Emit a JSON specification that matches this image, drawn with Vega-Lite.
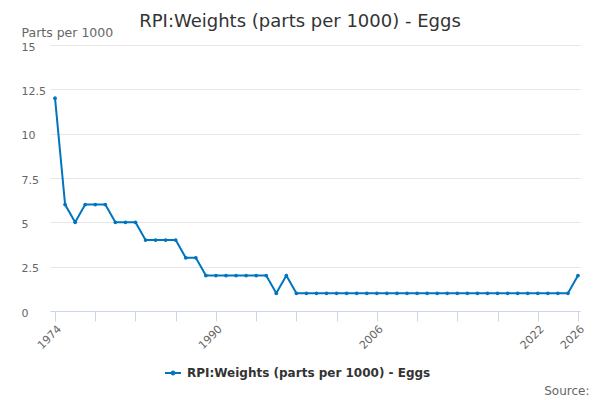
{
  "$schema": "https://vega.github.io/schema/vega-lite/v6.json",
  "width": 530,
  "height": 266,
  "autosize": "none",
  "padding": {"left": 50, "top": 45, "right": 20, "bottom": 89},
  "background": "#ffffff",
  "config": {
    "font": "DejaVu Sans",
    "view": {"stroke": null},
    "axis": {"labelColor": "#666666", "labelFontSize": 11, "titleFont": "DejaVu Sans"}
  },
  "title": {
    "text": "RPI:Weights (parts per 1000) - Eggs",
    "fontSize": 18,
    "fontWeight": "normal",
    "color": "#333333",
    "anchor": "middle",
    "frame": "group",
    "baseline": "alphabetic",
    "dx": -15,
    "dy": 21,
    "offset": 2
  },
  "data": {
    "values": [
      {"year": 1974, "value": 12, "series": "RPI:Weights (parts per 1000) - Eggs"},
      {"year": 1975, "value": 6, "series": "RPI:Weights (parts per 1000) - Eggs"},
      {"year": 1976, "value": 5, "series": "RPI:Weights (parts per 1000) - Eggs"},
      {"year": 1977, "value": 6, "series": "RPI:Weights (parts per 1000) - Eggs"},
      {"year": 1978, "value": 6, "series": "RPI:Weights (parts per 1000) - Eggs"},
      {"year": 1979, "value": 6, "series": "RPI:Weights (parts per 1000) - Eggs"},
      {"year": 1980, "value": 5, "series": "RPI:Weights (parts per 1000) - Eggs"},
      {"year": 1981, "value": 5, "series": "RPI:Weights (parts per 1000) - Eggs"},
      {"year": 1982, "value": 5, "series": "RPI:Weights (parts per 1000) - Eggs"},
      {"year": 1983, "value": 4, "series": "RPI:Weights (parts per 1000) - Eggs"},
      {"year": 1984, "value": 4, "series": "RPI:Weights (parts per 1000) - Eggs"},
      {"year": 1985, "value": 4, "series": "RPI:Weights (parts per 1000) - Eggs"},
      {"year": 1986, "value": 4, "series": "RPI:Weights (parts per 1000) - Eggs"},
      {"year": 1987, "value": 3, "series": "RPI:Weights (parts per 1000) - Eggs"},
      {"year": 1988, "value": 3, "series": "RPI:Weights (parts per 1000) - Eggs"},
      {"year": 1989, "value": 2, "series": "RPI:Weights (parts per 1000) - Eggs"},
      {"year": 1990, "value": 2, "series": "RPI:Weights (parts per 1000) - Eggs"},
      {"year": 1991, "value": 2, "series": "RPI:Weights (parts per 1000) - Eggs"},
      {"year": 1992, "value": 2, "series": "RPI:Weights (parts per 1000) - Eggs"},
      {"year": 1993, "value": 2, "series": "RPI:Weights (parts per 1000) - Eggs"},
      {"year": 1994, "value": 2, "series": "RPI:Weights (parts per 1000) - Eggs"},
      {"year": 1995, "value": 2, "series": "RPI:Weights (parts per 1000) - Eggs"},
      {"year": 1996, "value": 1, "series": "RPI:Weights (parts per 1000) - Eggs"},
      {"year": 1997, "value": 2, "series": "RPI:Weights (parts per 1000) - Eggs"},
      {"year": 1998, "value": 1, "series": "RPI:Weights (parts per 1000) - Eggs"},
      {"year": 1999, "value": 1, "series": "RPI:Weights (parts per 1000) - Eggs"},
      {"year": 2000, "value": 1, "series": "RPI:Weights (parts per 1000) - Eggs"},
      {"year": 2001, "value": 1, "series": "RPI:Weights (parts per 1000) - Eggs"},
      {"year": 2002, "value": 1, "series": "RPI:Weights (parts per 1000) - Eggs"},
      {"year": 2003, "value": 1, "series": "RPI:Weights (parts per 1000) - Eggs"},
      {"year": 2004, "value": 1, "series": "RPI:Weights (parts per 1000) - Eggs"},
      {"year": 2005, "value": 1, "series": "RPI:Weights (parts per 1000) - Eggs"},
      {"year": 2006, "value": 1, "series": "RPI:Weights (parts per 1000) - Eggs"},
      {"year": 2007, "value": 1, "series": "RPI:Weights (parts per 1000) - Eggs"},
      {"year": 2008, "value": 1, "series": "RPI:Weights (parts per 1000) - Eggs"},
      {"year": 2009, "value": 1, "series": "RPI:Weights (parts per 1000) - Eggs"},
      {"year": 2010, "value": 1, "series": "RPI:Weights (parts per 1000) - Eggs"},
      {"year": 2011, "value": 1, "series": "RPI:Weights (parts per 1000) - Eggs"},
      {"year": 2012, "value": 1, "series": "RPI:Weights (parts per 1000) - Eggs"},
      {"year": 2013, "value": 1, "series": "RPI:Weights (parts per 1000) - Eggs"},
      {"year": 2014, "value": 1, "series": "RPI:Weights (parts per 1000) - Eggs"},
      {"year": 2015, "value": 1, "series": "RPI:Weights (parts per 1000) - Eggs"},
      {"year": 2016, "value": 1, "series": "RPI:Weights (parts per 1000) - Eggs"},
      {"year": 2017, "value": 1, "series": "RPI:Weights (parts per 1000) - Eggs"},
      {"year": 2018, "value": 1, "series": "RPI:Weights (parts per 1000) - Eggs"},
      {"year": 2019, "value": 1, "series": "RPI:Weights (parts per 1000) - Eggs"},
      {"year": 2020, "value": 1, "series": "RPI:Weights (parts per 1000) - Eggs"},
      {"year": 2021, "value": 1, "series": "RPI:Weights (parts per 1000) - Eggs"},
      {"year": 2022, "value": 1, "series": "RPI:Weights (parts per 1000) - Eggs"},
      {"year": 2023, "value": 1, "series": "RPI:Weights (parts per 1000) - Eggs"},
      {"year": 2024, "value": 1, "series": "RPI:Weights (parts per 1000) - Eggs"},
      {"year": 2025, "value": 1, "series": "RPI:Weights (parts per 1000) - Eggs"},
      {"year": 2026, "value": 2, "series": "RPI:Weights (parts per 1000) - Eggs"}
    ]
  },
  "mark": {
    "type": "line",
    "strokeWidth": 2,
    "point": {"filled": true, "size": 14}
  },
  "encoding": {
    "x": {
      "field": "year",
      "type": "quantitative",
      "scale": {"domain": [1973.5, 2026.2], "nice": false, "zero": false},
      "axis": {
        "values": [1974, 1978, 1982, 1986, 1990, 1994, 1998, 2002, 2006, 2010, 2014, 2018, 2022, 2026],
        "labelExpr": "(datum.value == 1974 || datum.value == 1990 || datum.value == 2006 || datum.value == 2022 || datum.value == 2026) ? datum.label : ''",
        "format": "d",
        "labelAngle": -45,
        "labelAlign": "right",
        "labelBaseline": "top",
        "labelPadding": 2,
        "labelFlush": false,
        "labelOverlap": false,
        "grid": false,
        "domainColor": "#ccd6eb",
        "tickColor": "#ccd6eb",
        "tickSize": 10,
        "title": "Source:",
        "titleFontSize": 12,
        "titleFontWeight": "normal",
        "titleColor": "#666666",
        "titleAnchor": "end",
        "titleAlign": "right",
        "titleBaseline": "alphabetic",
        "titleX": 539,
        "titleY": 83
      }
    },
    "y": {
      "field": "value",
      "type": "quantitative",
      "scale": {"domain": [0, 15], "nice": false},
      "axis": {
        "values": [0, 2.5, 5, 7.5, 10, 12.5, 15],
        "format": ".3~g",
        "domain": false,
        "ticks": false,
        "tickSize": 0,
        "labelAlign": "left",
        "labelPadding": 29,
        "labelOffset": 2,
        "gridColor": "#e6e6e6",
        "title": "Parts per 1000",
        "titleAngle": 0,
        "titleAlign": "left",
        "titleBaseline": "middle",
        "titleFontSize": 12.5,
        "titleFontWeight": "normal",
        "titleColor": "#666666",
        "titleX": -29,
        "titleY": -13
      }
    },
    "color": {
      "field": "series",
      "type": "nominal",
      "scale": {"range": ["#0075bf"]},
      "legend": {
        "title": null,
        "orient": "none",
        "legendX": 115,
        "legendY": 320,
        "symbolType": "M-1,-0.13H1V0.13H-1Z M-0.3,0A0.3,0.3 0 1,1 0.3,0A0.3,0.3 0 1,1 -0.3,0Z",
        "symbolSize": 256,
        "symbolFillColor": "#0075bf",
        "symbolStrokeWidth": 0,
        "labelFontSize": 12,
        "labelFontWeight": "bold",
        "labelColor": "#333333",
        "labelOffset": 6,
        "labelLimit": 400,
        "encode": {
          "symbols": {"update": {"fill": {"value": "#0075bf"}, "strokeWidth": {"value": 0}, "opacity": {"value": 1}}}
        }
      }
    }
  }
}
